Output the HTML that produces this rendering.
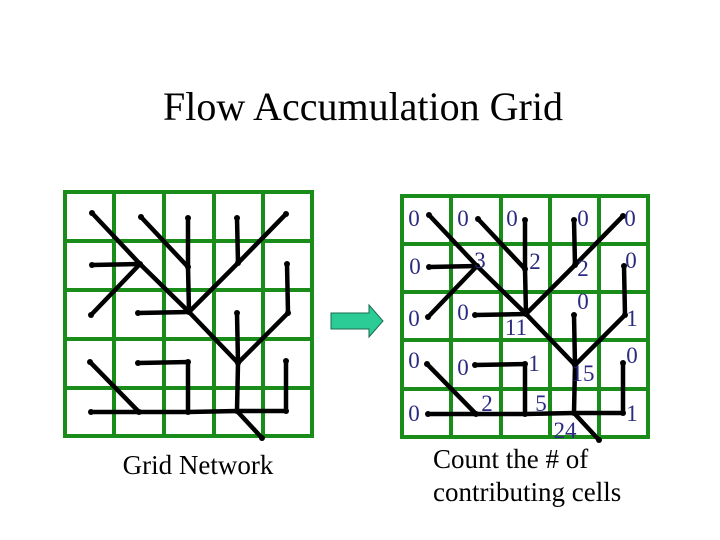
<!DOCTYPE html>
<html><head><style>body{margin:0;background:#fff}svg{display:block}</style></head><body>
<svg width="720" height="540" xmlns="http://www.w3.org/2000/svg" font-family="Liberation Serif, serif">
<rect width="720" height="540" fill="#fff"/>
<text x="363" y="120" font-size="40" text-anchor="middle" fill="#000">Flow Accumulation Grid</text>
<defs>
<g id="net" stroke="#000" stroke-width="4.5" stroke-linecap="round" fill="none">
<polyline points="92,213 140,264 189,312 238,363 237,411 262,438"/>
<polyline points="141,217 188,267 189,312"/>
<polyline points="188,218 188,267"/>
<polyline points="237,218 238,263"/>
<polyline points="286,214 238,263 189,312"/>
<polyline points="92,265 140,264"/>
<polyline points="91,315 140,264"/>
<polyline points="138,313 189,312"/>
<polyline points="287,264 288,313 238,363"/>
<polyline points="237,313 238,363"/>
<polyline points="90,362 139,412"/>
<polyline points="91,412 139,412 188,412 237,411 286,411 286,361"/>
<polyline points="138,363 188,362 188,412"/>
<g fill="#000" stroke="none">
<circle cx="92" cy="213" r="3"/><circle cx="141" cy="217" r="3"/><circle cx="188" cy="218" r="3"/><circle cx="237" cy="218" r="3"/><circle cx="286" cy="214" r="3"/>
<circle cx="92" cy="265" r="3"/><circle cx="140" cy="264" r="3"/><circle cx="188" cy="267" r="3"/><circle cx="238" cy="263" r="3"/><circle cx="287" cy="264" r="3"/>
<circle cx="91" cy="315" r="3"/><circle cx="138" cy="313" r="3"/><circle cx="189" cy="312" r="3"/><circle cx="237" cy="313" r="3"/><circle cx="288" cy="313" r="3"/>
<circle cx="90" cy="362" r="3"/><circle cx="138" cy="363" r="3"/><circle cx="188" cy="362" r="3"/><circle cx="238" cy="363" r="3"/><circle cx="286" cy="361" r="3"/>
<circle cx="91" cy="412" r="3"/><circle cx="139" cy="412" r="3"/><circle cx="188" cy="412" r="3"/><circle cx="237" cy="411" r="3"/><circle cx="286" cy="411" r="3"/>
<circle cx="262" cy="438" r="3"/>
</g>
</g>
</defs>
<g stroke="#1a8c1a" stroke-width="4" fill="none">
<rect x="65" y="192" width="247" height="244"/>
<path d="M114 192V436M164 192V436M214 192V436M263 192V436M65 241H312M65 290H312M65 339H312M65 388H312"/>
<rect x="402" y="196" width="246" height="241"/>
<path d="M451 196V437M501 196V437M550 196V437M599 196V437M402 244H648M402 292H648M402 340H648M402 389H648"/>
</g>
<use href="#net"/>
<use href="#net" transform="translate(337,2)"/>
<polygon points="331,313 369,313 369,305 383,321 369,337 369,329 331,329" fill="#2ccc96" stroke="#1a6a50" stroke-width="1"/>
<g fill="#2a2a80" font-size="23" text-anchor="middle">
<text x="414" y="226">0</text><text x="463" y="226">0</text><text x="512" y="226">0</text><text x="583" y="226">0</text><text x="630" y="226">0</text>
<text x="415" y="274">0</text><text x="480" y="268">3</text><text x="535" y="269">2</text><text x="583" y="276">2</text><text x="631" y="268">0</text>
<text x="414" y="326">0</text><text x="463" y="320">0</text><text x="516" y="335">11</text><text x="583" y="309">0</text><text x="632" y="326">1</text>
<text x="414" y="368">0</text><text x="463" y="375">0</text><text x="534" y="371">1</text><text x="583" y="381">15</text><text x="632" y="363">0</text>
<text x="414" y="421">0</text><text x="487" y="411">2</text><text x="541" y="411">5</text><text x="565" y="438">24</text><text x="632" y="421">1</text>
</g>
<text x="198" y="474" font-size="27" text-anchor="middle" fill="#000">Grid Network</text>
<text x="433" y="468" font-size="27" fill="#000">Count the # of</text>
<text x="433" y="501" font-size="27" fill="#000">contributing cells</text>
</svg>
</body></html>
